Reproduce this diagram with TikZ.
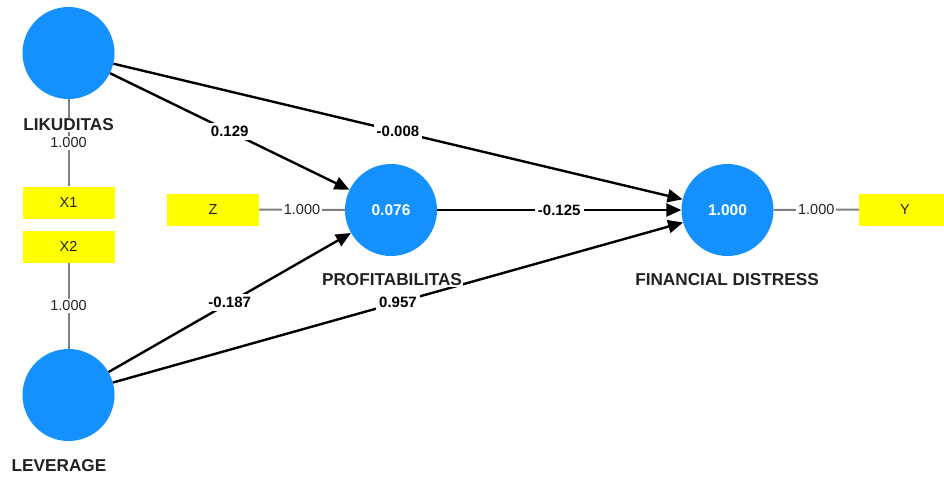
\documentclass[tikz,border=0pt]{standalone}
\usepackage{fontspec}
\setmainfont{Liberation Sans}
\usetikzlibrary{arrows.meta}
\definecolor{lvblue}{RGB}{20,145,255}
\definecolor{indyellow}{RGB}{255,255,0}
\definecolor{loadgray}{RGB}{128,128,128}
\definecolor{labeltext}{RGB}{34,34,34}

\begin{document}
\begin{tikzpicture}[x=1pt,y=-1pt,
  latent/.style={circle, fill=lvblue, minimum size=92pt, inner sep=0pt, text=white,
                 font=\fontsize{15.5}{18}\selectfont\bfseries},
  indicator/.style={fill=indyellow, minimum width=92pt, minimum height=32pt, inner sep=0pt,
                 text=labeltext, font=\fontsize{14.5}{17}\selectfont},
  lvname/.style={fill=white, inner sep=1pt, text=labeltext,
                 font=\fontsize{17.2}{20}\selectfont\bfseries},
  loading/.style={fill=white, inner sep=2pt, text=labeltext,
                 font=\fontsize{14.5}{17}\selectfont},
  coef/.style={fill=white, inner sep=3pt, text=black,
                 font=\fontsize{15}{18}\selectfont\bfseries},
  outerlink/.style={draw=loadgray, line width=2pt},
  innerpath/.style={draw=black, line width=2.4pt, -{Triangle[length=15pt,width=13pt]}}]
\useasboundingbox (0,0) rectangle (944,477);
\clip (0,0) rectangle (944,477);

% latent variables
\node[latent] (lik)  at (68.5,53)  {};
\node[latent] (lev)  at (68.5,395) {};
\node[latent] (prof) at (391,210)  {0.076};
\node[latent] (fd)   at (727.5,210) {1.000};

% indicators
\node[indicator] (x1) at (68.5,202.5) {X1};
\node[indicator] (x2) at (68.5,246.5) {X2};
\node[indicator] (z)  at (213,209.5)  {Z};
\node[indicator] (y)  at (905,209.5)  {Y};

% outer loadings
\draw[outerlink] (lik) -- (x1) node[loading, pos=0.5] {1.000};
\draw[outerlink] (x2) -- (lev) node[loading, pos=0.5] {1.000};
\draw[outerlink] (z) -- (prof) node[loading, pos=0.5] {1.000};
\draw[outerlink] (fd) -- (y) node[loading, pos=0.5] {1.000};

% structural paths
\draw[innerpath] (lik) -- (prof) node[coef, pos=0.5] {0.129};
\draw[innerpath] (lik) -- (fd) node[coef, pos=0.5] {-0.008};
\draw[innerpath] (prof) -- (fd) node[coef, pos=0.5] {-0.125};
\draw[innerpath] (lev) -- (prof) node[coef, pos=0.5] {-0.187};
\draw[innerpath] (lev) -- (fd) node[coef, pos=0.5] {0.957};

% construct names
\node[lvname] (likname)  at (68.5,125) {LIKUDITAS};
\node[lvname] (levname)  at (59,466)   {LEVERAGE};
\node[lvname] (profname) at (392,280)  {PROFITABILITAS};
\node[lvname] (fdname)   at (727,280)  {FINANCIAL DISTRESS};
\end{tikzpicture}
\end{document}
